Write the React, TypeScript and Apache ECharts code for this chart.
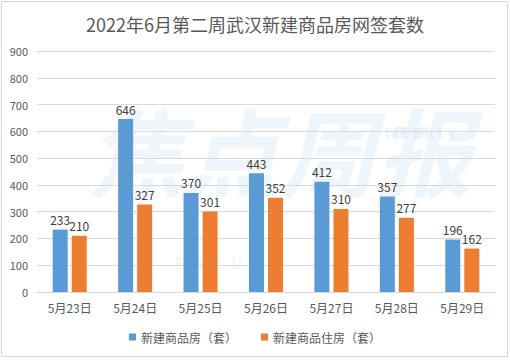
import React, { useEffect, useRef } from "react";
import * as echarts from "echarts";

const categories = ["5月23日", "5月24日", "5月25日", "5月26日", "5月27日", "5月28日", "5月29日"];
const seriesNames = ["新建商品房（套）", "新建商品住房（套）"];
const newHomes = [233, 646, 370, 443, 412, 357, 196];
const newResidential = [210, 327, 301, 352, 310, 277, 162];
const titleText = "2022年6月第二周武汉新建商品房网签套数";

export default function App() {
  const ref = useRef<HTMLDivElement>(null);
  useEffect(() => {
    if (!ref.current) return;
    const chart = echarts.init(ref.current, undefined, { renderer: "svg" });
    const font = "'Noto Sans CJK SC', 'Noto Sans', sans-serif";
    const wm = "rgba(91,155,213,0.10)";
    chart.setOption({
      animation: false,
      backgroundColor: "#ffffff",
      textStyle: { fontFamily: font },
      title: {
        text: titleText,
        left: "center",
        top: 10,
        textStyle: { fontSize: 18, fontWeight: "normal", color: "#595959", fontFamily: font },
      },
      graphic: [
        {
          type: "rect",
          shape: { x: 1.5, y: 1.5, width: 506, height: 355 },
          style: { fill: "none", stroke: "#d9d9d9", lineWidth: 1 },
          z: -10,
        },
        {
          type: "text",
          x: 88,
          y: 100,
          z: -5,
          silent: true,
          style: {
            text: "焦点周报",
            fontSize: 96,
            fontWeight: "bold",
            fontStyle: "italic",
            fontFamily: font,
            fill: wm,
          },
        },
        {
          type: "text",
          x: 385,
          y: 126,
          z: -5,
          silent: true,
          style: { text: "W E E K L Y", fontSize: 14, fontWeight: "bold", fontFamily: font, fill: wm },
        },
        {
          type: "text",
          x: 175,
          y: 256,
          z: -5,
          silent: true,
          style: { text: "F   O   C   U   S", fontSize: 14, fontWeight: "bold", fontFamily: font, fill: wm },
        },
      ],
      legend: {
        bottom: 12,
        left: "center",
        itemWidth: 7,
        itemHeight: 7,
        itemGap: 24,
        icon: "rect",
        textStyle: { fontSize: 12, color: "#595959", fontFamily: font },
        data: seriesNames,
      },
      grid: { left: 37, right: 15, top: 51, bottom: 68, containLabel: false },
      xAxis: {
        type: "category",
        data: categories,
        axisLine: { lineStyle: { color: "#d9d9d9" } },
        axisTick: { show: false },
        axisLabel: { color: "#595959", fontSize: 12, margin: 9, fontFamily: font },
      },
      yAxis: {
        type: "value",
        min: 0,
        max: 900,
        interval: 100,
        axisLine: { show: false },
        axisTick: { show: false },
        axisLabel: { color: "#595959", fontSize: 11, margin: 9, fontFamily: font },
        splitLine: { lineStyle: { color: "#d9d9d9" } },
      },
      series: [
        {
          name: seriesNames[0],
          type: "bar",
          data: newHomes,
          barWidth: 15,
          barGap: "27%",
          itemStyle: { color: "#5B9BD5" },
          label: { show: true, position: "top", distance: 4, color: "#404040", fontSize: 12, fontFamily: font },
        },
        {
          name: seriesNames[1],
          type: "bar",
          data: newResidential,
          barWidth: 15,
          barGap: "27%",
          itemStyle: { color: "#ED7D31" },
          label: { show: true, position: "top", distance: 4, color: "#404040", fontSize: 12, fontFamily: font },
        },
      ],
    });
    return () => chart.dispose();
  }, []);
  return <div ref={ref} style={{ width: 510, height: 360, position: "absolute", left: 0, top: 0 }} />;
}
